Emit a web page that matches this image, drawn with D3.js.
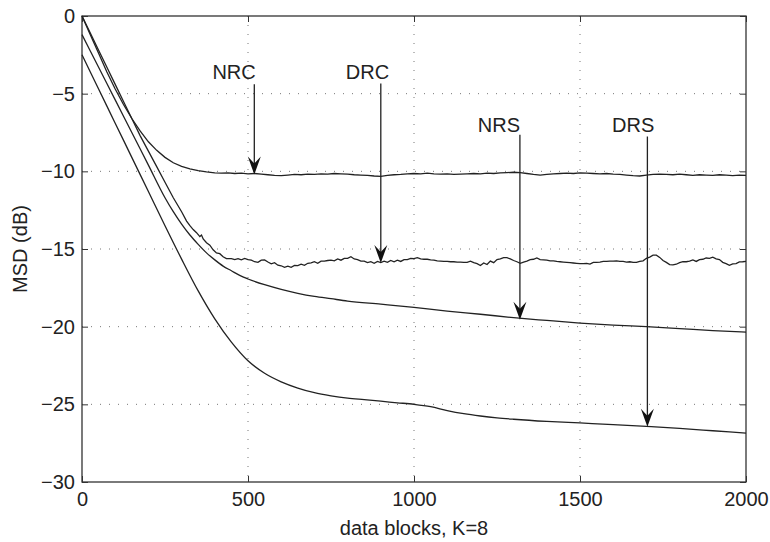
<!DOCTYPE html>
<html>
<head>
<meta charset="utf-8">
<script src="https://cdn.jsdelivr.net/npm/d3@7"></script>
<style>
  body { margin: 0; background: #fff; }
  svg { display: block; font-family: "Liberation Sans", Arial, Helvetica, sans-serif; }
  .grid line { stroke: #777; stroke-width: 1; stroke-dasharray: 1,8; }
  .curve { fill: none; stroke: #222; stroke-width: 1.3; }
</style>
</head>
<body>
<svg width="770" height="542"></svg>
<script>
// tick labels
var xTicks = [0, 500, 1000, 1500, 2000],
    yTicks = [0, -5, -10, -15, -20, -25, -30];

// NRC: smooth descent then noisy floor (sampled every 20 blocks)
var nrcHead = [[0,0],[25,-1.2],[50,-2.4],[75,-3.6],[100,-4.7],[125,-5.7],[150,-6.6],[175,-7.4],
  [200,-8.1],[225,-8.65],[250,-9.1],[275,-9.45],[300,-9.68],[325,-9.84],[350,-9.95],[375,-10.04]];
var nrcTailBlocks = d3.range(400, 2001, 20);
var nrcTail = [-10.10,-10.12,-10.10,-10.14,-10.12,-10.16,-10.14,-10.18,-10.22,-10.26,-10.28,-10.24,
  -10.20,-10.22,-10.18,-10.20,-10.16,-10.18,-10.14,-10.16,-10.18,-10.22,-10.24,-10.26,-10.30,-10.32,
  -10.26,-10.22,-10.20,-10.16,-10.14,-10.16,-10.12,-10.16,-10.18,-10.16,-10.20,-10.18,-10.16,-10.14,
  -10.16,-10.12,-10.14,-10.10,-10.08,-10.06,-10.08,-10.14,-10.20,-10.24,-10.20,-10.16,-10.14,-10.12,
  -10.14,-10.10,-10.12,-10.14,-10.16,-10.14,-10.18,-10.20,-10.24,-10.28,-10.30,-10.24,-10.20,-10.18,
  -10.20,-10.22,-10.18,-10.22,-10.26,-10.22,-10.24,-10.26,-10.22,-10.24,-10.28,-10.24,-10.26];

// DRC: descent then noisy floor (sampled every 10 blocks)
var drcHead = [[0,0],[25,-1.1],[50,-2.2],[75,-3.3],[100,-4.4],[125,-5.5],[150,-6.6],[175,-7.7],
  [200,-8.7],[225,-9.7],[250,-10.7],[275,-11.7],[300,-12.6],[315,-13.2],[325,-13.5],[335,-13.75],
  [345,-13.95],[355,-14.2],[360,-14.1],[365,-14.35],[375,-14.6],[385,-14.75],[395,-15.05],[405,-15.25],
  [415,-15.3],[425,-15.5],[435,-15.62]];
var drcTailBlocks = d3.range(450, 2001, 10);
var drcTail = [-15.62,-15.68,-15.62,-15.70,-15.61,-15.68,-15.72,-15.82,-15.86,-15.72,-15.70,-15.84,
  -15.95,-15.88,-16.04,-16.08,-16.18,-16.10,-16.18,-16.06,-16.07,-15.98,-16.05,-15.92,-15.90,-15.82,
  -15.92,-15.78,-15.78,-15.74,-15.72,-15.76,-15.64,-15.72,-15.60,-15.60,-15.50,-15.64,-15.68,-15.78,
  -15.78,-15.88,-15.82,-15.92,-15.80,-15.88,-15.78,-15.86,-15.74,-15.82,-15.72,-15.80,-15.68,-15.68,
  -15.60,-15.62,-15.56,-15.64,-15.66,-15.66,-15.70,-15.72,-15.76,-15.78,-15.80,-15.80,-15.82,-15.82,
  -15.84,-15.84,-15.86,-15.86,-15.78,-15.88,-15.94,-16.06,-15.90,-16.00,-15.78,-15.88,-15.68,-15.64,
  -15.56,-15.56,-15.64,-15.74,-15.82,-15.92,-15.84,-15.78,-15.68,-15.66,-15.58,-15.68,-15.70,-15.72,
  -15.76,-15.76,-15.80,-15.82,-15.84,-15.86,-15.88,-15.90,-15.92,-15.94,-15.94,-15.92,-15.97,-15.86,
  -15.86,-15.84,-15.80,-15.80,-15.78,-15.78,-15.76,-15.80,-15.80,-15.84,-15.82,-15.86,-15.86,-15.80,
  -15.76,-15.60,-15.52,-15.40,-15.40,-15.54,-15.74,-15.86,-16.00,-16.02,-15.98,-15.88,-15.82,-15.82,
  -15.78,-15.70,-15.80,-15.68,-15.66,-15.58,-15.60,-15.53,-15.64,-15.68,-15.86,-15.94,-16.05,-15.96,
  -15.94,-15.83,-15.82,-15.80];

// NRS and DRS: smooth
var nrs = [[0,-1.2],[50,-3.3],[100,-5.4],[150,-7.5],[200,-9.6],[250,-11.7],[275,-12.6],[300,-13.4],
  [325,-14.1],[350,-14.7],[375,-15.25],[400,-15.7],[425,-16.1],[450,-16.4],[475,-16.7],[500,-16.93],
  [550,-17.3],[600,-17.6],[650,-17.85],[700,-18.05],[750,-18.2],[800,-18.35],[900,-18.55],[1000,-18.76],
  [1100,-19.0],[1200,-19.2],[1300,-19.42],[1400,-19.6],[1500,-19.77],[1600,-19.9],[1700,-20.0],
  [1800,-20.12],[1900,-20.25],[2000,-20.35]];
var drs = [[0,-2.5],[50,-4.7],[100,-6.9],[150,-9.1],[200,-11.3],[250,-13.5],[300,-15.65],[350,-17.7],
  [400,-19.5],[450,-21.0],[500,-22.2],[550,-23.0],[600,-23.55],[650,-23.95],[700,-24.25],[750,-24.45],
  [800,-24.6],[850,-24.7],[900,-24.8],[950,-24.9],[1000,-25.0],[1050,-25.15],[1100,-25.4],[1150,-25.6],
  [1200,-25.75],[1250,-25.87],[1300,-25.96],[1400,-26.1],[1500,-26.2],[1600,-26.3],[1700,-26.42],
  [1800,-26.55],[1900,-26.7],[2000,-26.85]];

// annotations: label, label x, label baseline y, arrow x, arrow start y, arrow tip y
var labels = ["NRC", "DRC", "NRS", "DRS"],
    labelX = [458, 860, 1256, 1660],
    labelY = [-4.06, -4.06, -7.47, -7.47],
    arrowX = [519, 900, 1319, 1703],
    arrowFrom = [-4.4, -4.35, -7.65, -7.75],
    arrowTo = [-10.2, -15.9, -19.55, -26.45];

var svg = d3.select("svg"),
    margin = {top: 16, right: 24, bottom: 60, left: 82},
    width = +svg.attr("width") - margin.left - margin.right,
    height = +svg.attr("height") - margin.top - margin.bottom;

var x = d3.scaleLinear().domain([0, 2000]).range([0, width]),
    y = d3.scaleLinear().domain([-30, 0]).range([height, 0]);

var g = svg.append("g")
    .attr("transform", "translate(" + margin.left + "," + margin.top + ")");

// dotted grid
g.append("g").attr("class", "grid")
  .selectAll("line").data(xTicks.slice(1, -1)).enter().append("line")
    .attr("x1", function(d) { return x(d); }).attr("x2", function(d) { return x(d); })
    .attr("y1", 0).attr("y2", height);
g.append("g").attr("class", "grid")
  .selectAll("line").data(yTicks.slice(1, -1)).enter().append("line")
    .attr("y1", function(d) { return y(d); }).attr("y2", function(d) { return y(d); })
    .attr("x1", 0).attr("x2", width);

function styleAxis(sel) {
  sel.select(".domain").remove();
  sel.selectAll(".tick line").attr("stroke", "#333").attr("stroke-width", 1);
  sel.selectAll("text").attr("fill", "#222").style("font-size", "20px");
}

var fmt = d3.format("d");
g.append("g")
    .attr("transform", "translate(0," + height + ")")
    .call(d3.axisBottom(x).tickValues(xTicks).tickFormat(fmt).tickSizeInner(-6).tickSizeOuter(0).tickPadding(10))
    .call(styleAxis);
g.append("g")
    .call(d3.axisTop(x).tickValues(xTicks).tickFormat("").tickSizeInner(-6).tickSizeOuter(0))
    .call(styleAxis);
g.append("g")
    .call(d3.axisLeft(y).tickValues(yTicks).tickFormat(fmt).tickSizeInner(-6).tickSizeOuter(0).tickPadding(7))
    .call(styleAxis);
g.append("g")
    .attr("transform", "translate(" + width + ",0)")
    .call(d3.axisRight(y).tickValues(yTicks).tickFormat("").tickSizeInner(-6).tickSizeOuter(0))
    .call(styleAxis);

// frame
g.append("rect")
    .attr("width", width).attr("height", height)
    .attr("fill", "none").attr("stroke", "#333").attr("stroke-width", 1.3);

var line = d3.line()
    .x(function(d) { return x(d[0]); })
    .y(function(d) { return y(d[1]); });
var smooth = d3.line()
    .curve(d3.curveMonotoneX)
    .x(function(d) { return x(d[0]); })
    .y(function(d) { return y(d[1]); });

function join(head, blocks, vals) {
  return head.concat(blocks.map(function(b, i) { return [b, vals[i]]; }));
}

g.append("path").attr("class", "curve").attr("d", line(join(nrcHead, nrcTailBlocks, nrcTail)));
g.append("path").attr("class", "curve").attr("d", line(join(drcHead, drcTailBlocks, drcTail)));
g.append("path").attr("class", "curve").attr("d", smooth(nrs));
g.append("path").attr("class", "curve").attr("d", smooth(drs));

// arrows and labels
var ann = g.selectAll("g.ann")
  .data(labels)
  .enter().append("g").attr("class", "ann");

ann.append("line")
    .attr("x1", function(d, i) { return x(arrowX[i]); })
    .attr("x2", function(d, i) { return x(arrowX[i]); })
    .attr("y1", function(d, i) { return y(arrowFrom[i]); })
    .attr("y2", function(d, i) { return y(arrowTo[i]) - 8; })
    .attr("stroke", "#222").attr("stroke-width", 1.3);

ann.append("path")
    .attr("d", function(d, i) {
      var tx = x(arrowX[i]), ty = y(arrowTo[i]);
      return "M" + tx + "," + ty + "L" + (tx - 6.5) + "," + (ty - 18) +
             "L" + tx + "," + (ty - 11) + "L" + (tx + 6.5) + "," + (ty - 18) + "Z";
    })
    .attr("fill", "#111");

ann.append("text")
    .attr("x", function(d, i) { return x(labelX[i]); })
    .attr("y", function(d, i) { return y(labelY[i]); })
    .attr("text-anchor", "middle")
    .attr("fill", "#222")
    .style("font-size", "20px")
    .text(function(d) { return d; });

// axis titles
g.append("text")
    .attr("x", width / 2)
    .attr("y", height + 53)
    .attr("text-anchor", "middle")
    .attr("fill", "#222")
    .style("font-size", "20px")
    .text("data blocks, K=8");

g.append("text")
    .attr("transform", "rotate(-90)")
    .attr("x", -height / 2)
    .attr("y", -55)
    .attr("text-anchor", "middle")
    .attr("fill", "#222")
    .style("font-size", "20px")
    .text("MSD (dB)");
</script>
</body>
</html>
